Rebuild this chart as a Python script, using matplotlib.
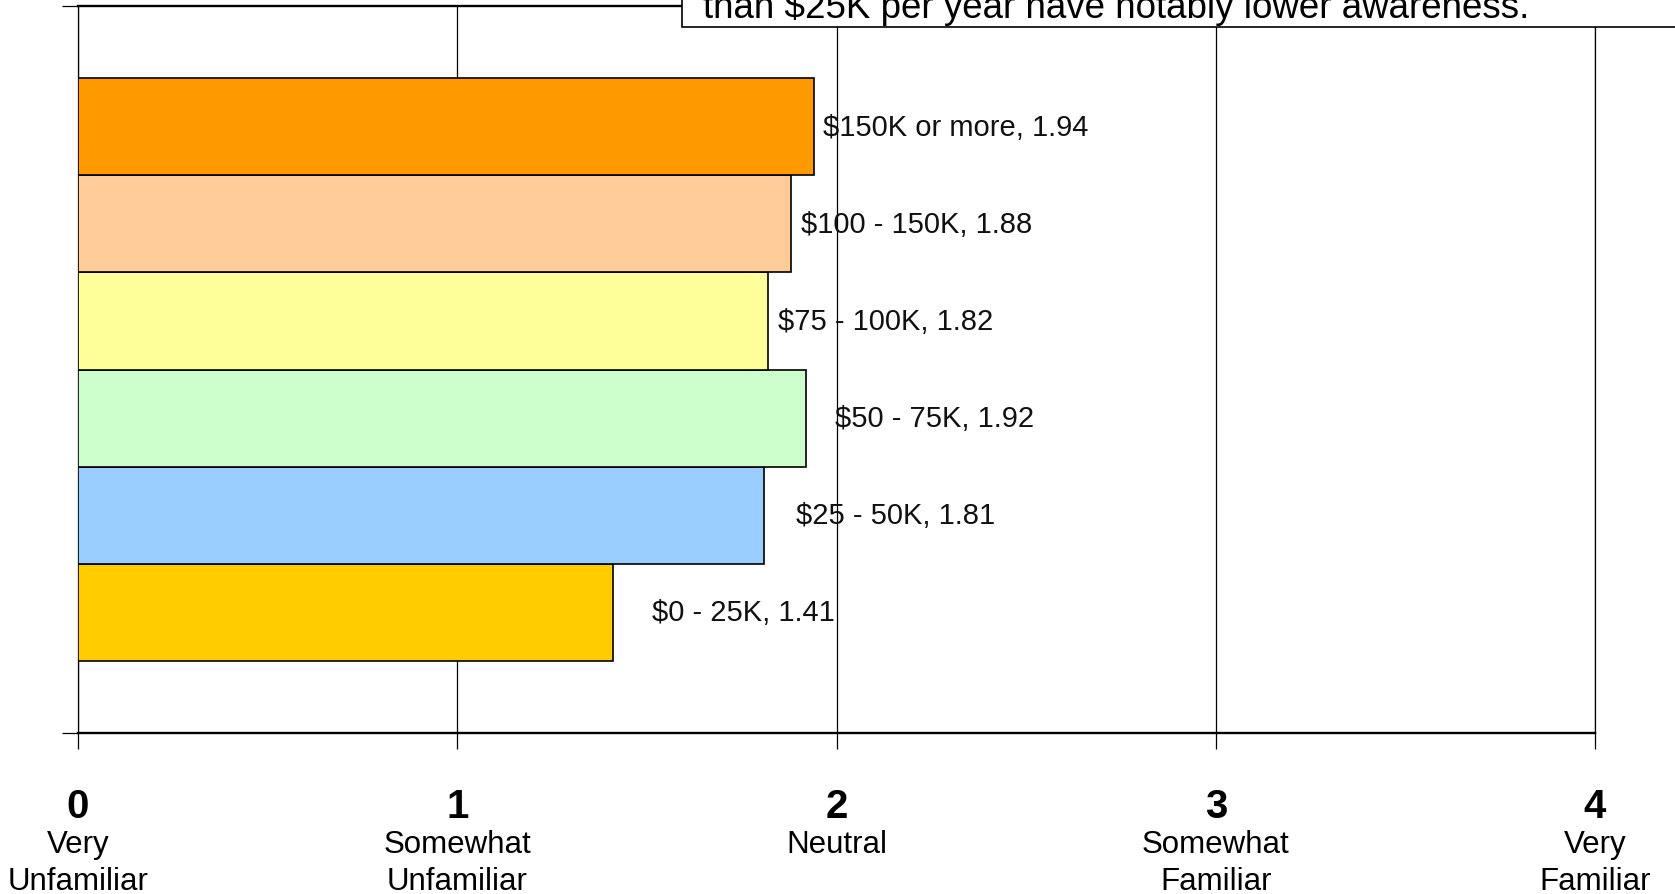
import matplotlib
matplotlib.use('Agg')
import matplotlib.pyplot as plt
from matplotlib.patches import Rectangle

plt.rcParams['font.family'] = ['Liberation Sans', 'DejaVu Sans']

# income groups, bottom to top
groups = ['$0 - 25K', '$25 - 50K', '$50 - 75K', '$75 - 100K', '$100 - 150K', '$150K or more']
scores = [1.41, 1.81, 1.92, 1.82, 1.88, 1.94]
colors = ['#FFCC00', '#99CCFF', '#CCFFCC', '#FFFF99', '#FFCC99', '#FF9900']

scale_values = [0, 1, 2, 3, 4]
scale_top = ['Very', 'Somewhat', 'Neutral', 'Somewhat', 'Very']
scale_bottom = ['Unfamiliar', 'Unfamiliar', '', 'Familiar', 'Familiar']

note = 'than $25K per year have notably lower awareness.'

# label gap after each bar end, in points (Excel placed them by hand)
label_pad = [28, 23, 21, 7, 7, 7]

fig = plt.figure(figsize=(16.75, 8.95), dpi=100)
ax = fig.add_axes([0.04657, 0.17955, 0.90567, 0.81296])

ypos = list(range(len(groups)))
ax.barh(ypos, scores, height=1.0, color=colors, edgecolor='black', linewidth=1.2, zorder=3)

for y, v, g, p in zip(ypos, scores, groups, label_pad):
    ax.annotate(f'{g}, {v:.2f}', xy=(v, y), xytext=(p, 0), textcoords='offset points',
                va='center', ha='left', fontsize=21, color='#111111', zorder=5)

ax.set_xlim(0, 4)
ax.set_ylim(-1.25, 6.25)

ax.set_xticks(scale_values)
ax.set_xticklabels([])
ax.set_yticks([-1.25, 6.25])
ax.set_yticklabels([])
ax.tick_params(axis='both', direction='out', length=11.5, width=0.9, color='black')

ax.xaxis.grid(True, color='black', linewidth=0.9, zorder=1)
ax.set_axisbelow(True)

for side in ['top', 'bottom']:
    ax.spines[side].set_linewidth(1.7)
for side in ['left', 'right']:
    ax.spines[side].set_linewidth(0.9)

tr = ax.get_xaxis_transform()
for x, t1, t2 in zip(scale_values, scale_top, scale_bottom):
    ax.text(x, -0.115, str(x), transform=tr, ha='center', va='baseline',
            fontsize=29, fontweight='bold', clip_on=False)
    ax.text(x, -0.1627, t1, transform=tr, ha='center', va='baseline',
            fontsize=22.5, clip_on=False)
    ax.text(x, -0.214, t2, transform=tr, ha='center', va='baseline',
            fontsize=22.5, clip_on=False)

# callout box cut off by the top edge
box = Rectangle((682 / 1675, 1 - 28.3 / 895), 0.7, 0.2, transform=fig.transFigure,
                facecolor='white', edgecolor='black', linewidth=1.2, zorder=10, clip_on=False)
fig.patches.append(box)
fig.text(703 / 1675, 1 - 18 / 895, note, fontsize=26.5, va='baseline', ha='left', zorder=11)

fig.savefig('out.png', dpi=100)
